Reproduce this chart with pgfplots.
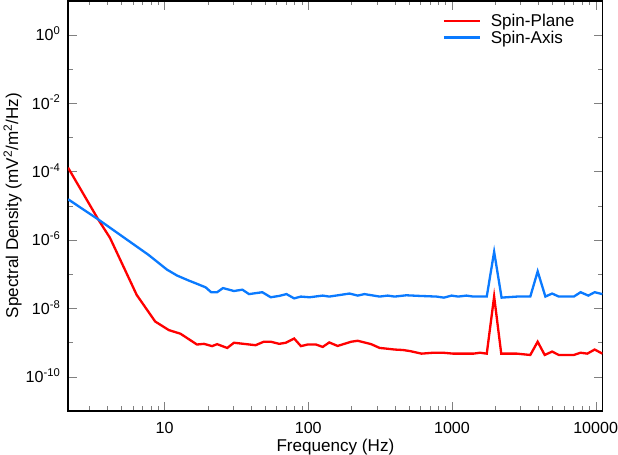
\documentclass[border=0pt]{standalone}
\usepackage{pgfplots}
\pgfplotsset{compat=1.18}
\usepackage{fontspec}
\setmainfont{Liberation Sans}
\definecolor{spinred}{RGB}{255,0,0}
\definecolor{spinblue}{RGB}{10,122,255}
\newcommand{\fs}{\fontsize{17}{19}\selectfont}
\newcommand{\ft}{\fontsize{16}{18}\selectfont}

\begin{document}
\begin{tikzpicture}
\begin{axis}[
    scale only axis,
    width=532pt, height=408pt,
    xmode=log, ymode=log,
    xmin=2.13, xmax=11200,
    ymin=1e-11, ymax=10,
    xtick={10,100,1000,10000},
    xticklabels={10,100,1000,10000},
    minor xtick={3,4,5,6,7,8,9,20,30,40,50,60,70,80,90,200,300,400,500,600,700,800,900,2000,3000,4000,5000,6000,7000,8000,9000},
    ytick={1e-10,1e-8,1e-6,1e-4,1e-2,1},
    yticklabels={10\textsuperscript{-10},10\textsuperscript{-8},10\textsuperscript{-6},10\textsuperscript{-4},10\textsuperscript{-2},10\textsuperscript{0}},
    minor ytick={1e-11,1e-9,1e-7,1e-5,1e-3,1e-1,10},
    tick align=inside,
    major tick length=9pt, minor tick length=4.5pt,
    every axis/.append style={line width=1.5pt},
    tick label style={font=\ft},
    xticklabel style={inner sep=0pt, yshift=-11pt},
    yticklabel style={anchor=base east, inner sep=0pt, xshift=-7pt, yshift=-6pt},
    xlabel={Frequency (Hz)},
    ylabel={Spectral Density (mV\textsuperscript{2}/m\textsuperscript{2}/Hz)},
    label style={font=\fs},
    xlabel style={at={(axis description cs:0.5,0)}, anchor=north, inner sep=0pt, yshift=-27pt},
    ylabel style={at={([xshift=-42pt]axis description cs:0,0.5)}, anchor=south, inner sep=0pt, minimum height=25pt},
    legend style={draw=none, fill=none, font=\fs, at={(0.955,0.975)}, anchor=north east,
        nodes={inner sep=0.5pt}, row sep=1.5pt, column sep=9pt},
    legend cell align=left,
    legend image code/.code={\draw[#1] (0pt,0pt) -- (36pt,0pt);},
]
% Spin-Plane
\addplot[spinred, line width=2.3pt] coordinates {
(2.13,1.3e-4) (3.45,4.0e-6) (4.17,1.15e-6) (6.4,2.45e-8) (8.6,4.1e-9)
(10.7,2.3e-9) (12.9,1.8e-9) (16.8,8.7e-10) (18.8,9.1e-10) (21.4,7.8e-10)
(23.2,8.9e-10) (27.3,6.9e-10) (30.4,9.8e-10) (43,8.3e-10) (49,1.05e-9)
(54.8,1.05e-9) (62.7,9.1e-10) (69.8,9.8e-10) (79.8,1.3e-9) (88.9,7.8e-10)
(98.9,8.7e-10) (113,8.7e-10) (126,7.4e-10) (140,1.0e-9) (160,7.9e-10)
(199,1.05e-9) (221,1.12e-9) (246,1.0e-9) (274,8.9e-10) (314,6.9e-10)
(349,6.6e-10) (399,6.2e-10) (457,6.0e-10) (509,5.6e-10) (614,4.7e-10)
(740,5.0e-10) (869,5.0e-10) (1021,4.7e-10) (1409,4.7e-10) (1570,5.0e-10)
(1747,4.7e-10) (1966,2.2e-8) (2203,4.7e-10) (2836,4.7e-10) (3510,4.3e-10)
(3950,1.05e-9) (4420,4.3e-10) (4980,5.4e-10) (5540,4.3e-10) (7050,4.3e-10)
(7860,5.0e-10) (8750,4.7e-10) (9840,6.2e-10) (11140,4.7e-10)
};
\addlegendentry{Spin-Plane}
% Spin-Axis
\addplot[spinblue, line width=2.3pt] coordinates {
(2.13,1.55e-5) (3.45,4.0e-6) (7.7,3.7e-7) (10.4,1.35e-7) (12.2,9.1e-8)
(14.7,6.5e-8) (16.8,5.2e-8) (19.3,4.1e-8) (21.1,2.95e-8) (23.2,2.95e-8)
(25.5,3.9e-8) (30.4,3.2e-8) (34.8,3.5e-8) (38.7,2.6e-8) (47.9,2.95e-8)
(54.8,2.1e-8) (62.7,2.3e-8) (70.5,2.6e-8) (79.8,1.95e-8) (88.9,2.2e-8)
(102,2.1e-8) (126,2.35e-8) (140,2.2e-8) (194,2.7e-8) (221,2.35e-8)
(246,2.6e-8) (314,2.2e-8) (357,2.35e-8) (399,2.2e-8) (482,2.4e-8)
(596,2.3e-8) (780,2.2e-8) (880,2.05e-8) (994,2.35e-8) (1104,2.2e-8)
(1262,2.35e-8) (1409,2.2e-8) (1747,2.2e-8) (1966,4.5e-7) (2215,2.05e-8)
(2836,2.2e-8) (3510,2.2e-8) (3950,1.2e-7) (4470,2.2e-8) (4980,2.7e-8)
(5540,2.2e-8) (7050,2.2e-8) (7860,2.95e-8) (8890,2.35e-8) (9840,2.95e-8)
(11140,2.6e-8)
};
\addlegendentry{Spin-Axis}
\end{axis}
\end{tikzpicture}
\end{document}
